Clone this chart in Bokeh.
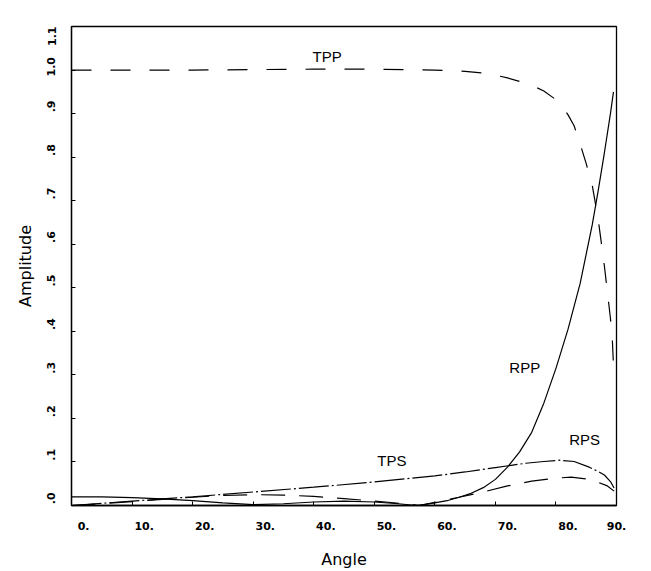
import math
from bokeh.plotting import figure
from bokeh.models import Range1d, FixedTicker, ColumnDataSource
from bokeh.core.properties import value
from bokeh.embed import file_html
from bokeh.resources import INLINE

# ---- data ----
tpp_angle = [0, 10, 20, 30, 40, 50, 60, 65, 68, 70, 72, 74, 76, 78, 80, 81, 82, 83, 84, 85, 86, 87, 88, 88.5, 89, 89.3, 89.6]
tpp_amp = [1.0, 1.0, 1.0, 1.001, 1.002, 1.002, 1.0, 0.997, 0.993, 0.988, 0.982, 0.974, 0.965, 0.952, 0.932, 0.917, 0.897, 0.872, 0.83, 0.785, 0.735, 0.655, 0.55, 0.49, 0.43, 0.385, 0.29]

rpp_angle = [0, 5, 10, 15, 20, 25, 30, 35, 40, 45, 50, 54, 57, 60, 62, 64, 66, 68, 70, 72, 74, 76, 78, 80, 82, 84, 86, 87, 88, 89, 89.5]
rpp_amp = [0.02, 0.02, 0.018, 0.015, 0.011, 0.006, 0.002, 0.004, 0.008, 0.01, 0.008, 0.004, 0.0, 0.006, 0.011, 0.019, 0.028, 0.041, 0.06, 0.088, 0.123, 0.168, 0.235, 0.315, 0.405, 0.51, 0.645, 0.725, 0.81, 0.9, 0.95]

tps_angle = [0, 5, 10, 15, 20, 30, 40, 50, 60, 65, 70, 75, 78, 80.5, 83, 85.5, 87, 88, 89, 89.6]
tps_amp = [0.0, 0.005, 0.01, 0.015, 0.02, 0.031, 0.042, 0.054, 0.068, 0.077, 0.087, 0.097, 0.101, 0.104, 0.101, 0.088, 0.078, 0.07, 0.055, 0.04]

rps_angle = [0, 5, 10, 15, 20, 25, 30, 35, 40, 45, 50, 55, 57.5, 60, 64, 68, 72, 76, 80, 82.5, 85, 87, 88.5, 89.6]
rps_amp = [0.0, 0.004, 0.009, 0.014, 0.019, 0.023, 0.025, 0.024, 0.021, 0.016, 0.01, 0.004, 0.0, 0.007, 0.019, 0.031, 0.045, 0.056, 0.063, 0.065, 0.061, 0.053, 0.045, 0.033]

x_ticks = [0, 10, 20, 30, 40, 50, 60, 70, 80, 90]
x_tick_labels = ["0.", "10.", "20.", "30.", "40.", "50.", "60.", "70.", "80.", "90."]
y_ticks = [0.0, 0.1, 0.2, 0.3, 0.4, 0.5, 0.6, 0.7, 0.8, 0.9, 1.0, 1.1]
y_tick_labels = [".0", ".1", ".2", ".3", ".4", ".5", ".6", ".7", ".8", ".9", "1.0", "1.1"]

curve_names = ["TPP", "RPP", "RPS", "TPS"]
curve_label_x = [39.8, 72.3, 82.2, 50.5]
curve_label_y = [1.03, 0.316, 0.151, 0.104]

X_MAX, Y_MAX = 90, 1.1
X_LABEL_SHIFT, Y_LABEL_SHIFT = 2.0, 0.03  # the original prints its labels beside the ticks

# ---- figure ----
p = figure(width=651, height=571, x_range=Range1d(0, X_MAX), y_range=Range1d(0, Y_MAX),
           output_backend="svg", toolbar_location=None,
           min_border_left=71, min_border_right=35, min_border_top=26, min_border_bottom=57)
p.grid.visible = False
p.background_fill_color = "white"
p.border_fill_color = "white"
p.outline_line_color = "black"
p.outline_line_width = 1.3

x_lab_pos = [min(t + X_LABEL_SHIFT, X_MAX) for t in x_ticks]
y_lab_pos = [min(t + Y_LABEL_SHIFT, Y_MAX) for t in y_ticks]

for ax, ticks, lab_pos, labs in ((p.xaxis[0], x_ticks, x_lab_pos, x_tick_labels),
                                 (p.yaxis[0], y_ticks, y_lab_pos, y_tick_labels)):
    ax.ticker = FixedTicker(ticks=lab_pos, minor_ticks=ticks)
    ax.major_label_overrides = {pos: s for pos, s in zip(lab_pos, labs)}
    ax.major_tick_line_color = None
    ax.minor_tick_line_color = "black"
    ax.minor_tick_in = 4
    ax.minor_tick_out = 0
    ax.axis_line_color = "black"
    ax.axis_line_width = 1.3
    ax.major_label_text_font = "DejaVu Sans"
    ax.major_label_text_font_size = "11px"
    ax.major_label_text_font_style = "bold"
    ax.major_label_text_color = "black"
    ax.axis_label_text_font = "DejaVu Sans"
    ax.axis_label_text_font_size = "16px"
    ax.axis_label_text_font_style = "normal"
    ax.axis_label_text_color = "black"

p.xaxis.major_label_standoff = 10
p.xaxis.axis_label = "Angle"
p.xaxis.axis_label_standoff = 17
p.yaxis.major_label_orientation = math.pi / 2
p.yaxis.major_label_standoff = 14
p.yaxis.axis_label = "Amplitude"
p.yaxis.axis_label_standoff = 6

# ---- curves ----
p.line(tpp_angle, tpp_amp, line_color="black", line_width=1.2, line_dash="20 19")
p.line(rpp_angle, rpp_amp, line_color="black", line_width=1.2)
p.line(rps_angle, rps_amp, line_color="black", line_width=1.2, line_dash="24 14")
p.line(tps_angle, tps_amp, line_color="black", line_width=1.2, line_dash="30 3 2 3")

lab_src = ColumnDataSource(dict(x=curve_label_x, y=curve_label_y, t=curve_names))
p.text(x="x", y="y", text="t", source=lab_src, text_font=value("Liberation Sans"),
       text_font_size="15px", text_align="left", text_baseline="middle", text_color="black")

open("out.html", "w").write(file_html(p, INLINE))
